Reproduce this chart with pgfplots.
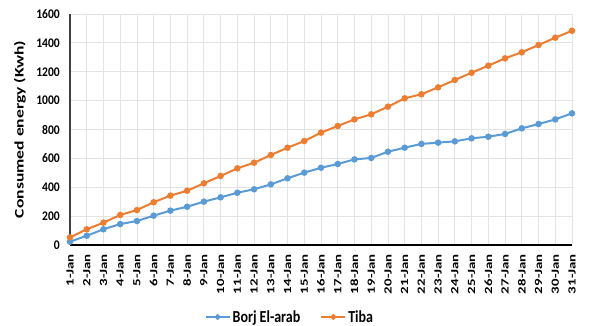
\documentclass[border=0pt]{standalone}
\usepackage{pgfplots}
\pgfplotsset{compat=1.18}
\usepackage{graphicx}
\usepackage{fontspec}
\setmainfont{Carlito}
\definecolor{cblue}{HTML}{5B9BD5}
\definecolor{corange}{HTML}{ED7D31}
\definecolor{cgrid}{HTML}{E3E3E3}
\begin{document}
\begin{tikzpicture}
\begin{axis}[
  at={(0,0)}, anchor=origin,
  scale only axis, width=502pt, height=231pt,
  xmin=1, xmax=31, ymin=0, ymax=1600,
  xtick={1,...,31},
  ytick={0,200,...,1600},
  major tick length=0pt,
  grid=both,
  major grid style={cgrid, line width=0.8pt},
  axis x line*=bottom, axis y line*=left,
  x axis line style={-, black, line width=1.6pt},
  y axis line style={-, black!75, line width=1.6pt},
  /pgf/number format/1000 sep={},
  xticklabel style={rotate=90, anchor=east, font=\fontsize{11}{12}\selectfont\bfseries, inner sep=0pt},
  xticklabel shift=9pt,
  yticklabel style={font=\fontsize{11}{12}\selectfont\bfseries, inner sep=0pt},
  yticklabel shift=10pt,
  xticklabel={\scalebox{1.35}[1]{\pgfmathprintnumber[/pgf/number format/assume math mode=true]{\tick}-Jan}},
  yticklabel={\scalebox{1.05}[1.2]{\pgfmathprintnumber[/pgf/number format/assume math mode=true]{\tick}}},
  ylabel={\scalebox{1.35}[1]{\bfseries Consumed energy (Kwh)}},
  ylabel style={font=\fontsize{13}{14}\selectfont, at={(rel axis cs:-0.0996,0.5)}, anchor=center},
  legend columns=2,
  legend style={draw=none, fill=none, at={(rel axis cs:0.438,0)}, yshift=-72pt, anchor=center,
    font=\fontsize{14}{15}\selectfont\bfseries, /tikz/every even column/.append style={column sep=18pt}},
  legend image code/.code={\draw[#1] (0pt,0pt) -- (24pt,0pt); \fill[#1] (12pt,0pt) circle (1.8pt);},
  clip=false,
]
\addplot[cblue, line width=2pt, mark=*, mark size=2.2pt] coordinates {
(1,23)(2,64)(3,109)(4,145)(5,166)(6,203)(7,238)(8,265)(9,300)(10,330)
(11,362)(12,386)(13,420)(14,462)(15,501)(16,535)(17,561)(18,593)(19,603)(20,646)
(21,674)(22,700)(23,709)(24,718)(25,739)(26,750)(27,769)(28,808)(29,838)(30,870)(31,912)};
\addlegendentry{\scalebox{1}[1.2]{Borj El-arab}}
\addplot[corange, line width=2pt, mark=*, mark size=2.2pt] coordinates {
(1,53)(2,109)(3,155)(4,208)(5,242)(6,296)(7,342)(8,376)(9,427)(10,478)
(11,531)(12,570)(13,623)(14,674)(15,720)(16,778)(17,824)(18,870)(19,905)(20,958)
(21,1016)(22,1044)(23,1092)(24,1143)(25,1193)(26,1242)(27,1293)(28,1335)(29,1385)(30,1436)(31,1484)};
\addlegendentry{\scalebox{1}[1.2]{Tiba}}
\end{axis}
\pgfresetboundingbox
\path (-70pt,-81pt) rectangle (527pt,245pt);
\end{tikzpicture}
\end{document}
